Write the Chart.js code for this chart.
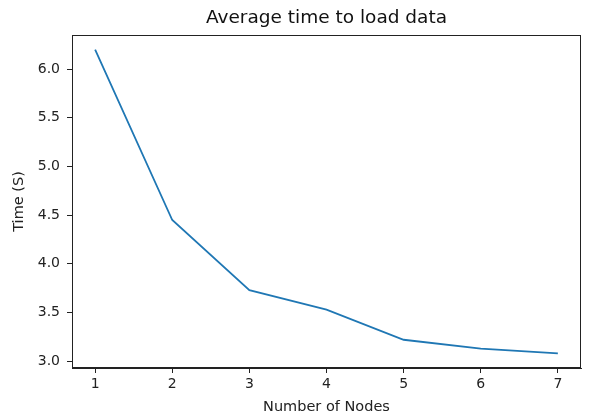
<!DOCTYPE html>
<html>
<head>
<meta charset="utf-8">
<script src="https://cdn.jsdelivr.net/npm/chart.js@4.4.0/dist/chart.umd.min.js"></script>
<style>
    html, body { margin: 0; padding: 0; background: #fff; }
    #wrap { width: 591px; height: 418px; }
</style>
</head>
<body>
<div id="wrap"><canvas id="myChart"></canvas></div>
<script>
    // data
    const nodes = [1, 2, 3, 4, 5, 6, 7];
    const times = [6.2, 4.45, 3.73, 3.53, 3.22, 3.13, 3.08];
    const xTicks = [1, 2, 3, 4, 5, 6, 7];
    const yTicks = [3.0, 3.5, 4.0, 4.5, 5.0, 5.5, 6.0];

    const points = nodes.map((n, i) => ({ x: n, y: times[i] }));

    // matplotlib-like box around the axes
    const boxPlugin = {
        id: 'box',
        afterDraw(chart) {
            const a = chart.chartArea;
            const c = chart.ctx;
            c.save();
            c.strokeStyle = '#222';
            c.lineWidth = 1;
            c.strokeRect(a.left + 0.5, a.top + 0.5, a.right - a.left - 1, a.bottom - a.top - 1);
            c.restore();
        }
    };

    const tickFont = { family: 'DejaVu Sans', size: 14 };
    const labelFont = { family: 'DejaVu Sans', size: 14.5 };

    let ctx = document.getElementById('myChart').getContext('2d');
    let myChart = new Chart(ctx, {
        type: 'line',
        data: {
            datasets: [{
                data: points,
                borderColor: '#1f77b4',
                borderWidth: 1.8,
                pointRadius: 0,
                tension: 0,
                fill: false
            }]
        },
        options: {
            responsive: true,
            maintainAspectRatio: false,
            animation: false,
            layout: { padding: { left: 0, right: 10, top: 0, bottom: 0 } },
            plugins: {
                legend: { display: false },
                tooltip: { enabled: false }
            },
            scales: {
                x: {
                    type: 'linear',
                    min: 0.7,
                    max: 7.3,
                    afterBuildTicks: axis => { axis.ticks = xTicks.map(v => ({ value: v })); },
                    afterFit: axis => { axis.height = 50; },
                    ticks: { color: '#222', font: tickFont, padding: 3, maxRotation: 0 },
                    grid: { drawOnChartArea: false, drawTicks: true, tickLength: 5, color: '#222' },
                    border: { color: '#222' },
                    title: { display: true, text: 'Number of Nodes', color: '#222', font: labelFont, padding: { top: 0, bottom: 2 } }
                },
                // top axis only carries the chart title, so it centres over the plot like matplotlib
                x2: {
                    type: 'linear',
                    position: 'top',
                    min: 0.7,
                    max: 7.3,
                    afterFit: axis => { axis.height = 35; },
                    ticks: { display: false },
                    grid: { display: false },
                    border: { display: false },
                    title: {
                        display: true,
                        text: 'Average time to load data',
                        color: '#111',
                        font: { family: 'DejaVu Sans', size: 18.5 },
                        padding: { top: 7, bottom: 0 }
                    }
                },
                y: {
                    min: 2.93,
                    max: 6.35,
                    afterBuildTicks: axis => { axis.ticks = yTicks.map(v => ({ value: v })); },
                    afterFit: axis => { axis.width = 72; },
                    ticks: { color: '#222', font: tickFont, padding: 7, callback: v => v.toFixed(1) },
                    grid: { drawOnChartArea: false, drawTicks: true, tickLength: 5, color: '#222' },
                    border: { color: '#222' },
                    title: { display: true, text: 'Time (S)', color: '#222', font: labelFont, padding: { top: 11, bottom: 0 } }
                }
            }
        },
        plugins: [boxPlugin]
    });
</script>
</body>
</html>
